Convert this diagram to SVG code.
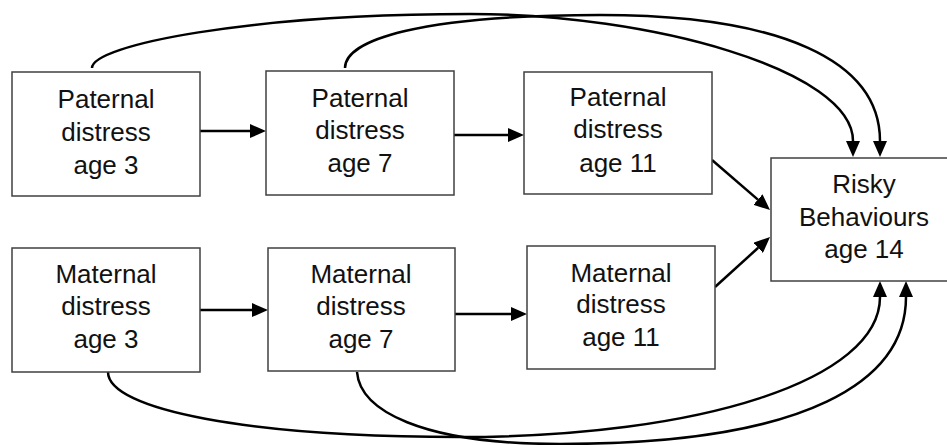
<svg xmlns="http://www.w3.org/2000/svg" width="947" height="445" viewBox="0 0 947 445">
<style>
.box{fill:#fff;stroke:#404040;stroke-width:1.5}
.t{font-family:"Liberation Sans",Arial,sans-serif;font-size:26px;fill:#111;text-anchor:middle}
.c{fill:none;stroke:#000;stroke-width:2.5}
</style>
<defs>
<marker id="ah" markerUnits="userSpaceOnUse" markerWidth="16" markerHeight="14" refX="0" refY="7" orient="auto" viewBox="0 0 16 14">
<path d="M0,0 L16,7 L0,14 z" fill="#000"/>
</marker>
</defs>
<g id="connectors">
<path class="c" marker-end="url(#ah)" d="M200,131 L250,131"/>
<path class="c" marker-end="url(#ah)" d="M454,135 L508,135"/>
<path class="c" marker-end="url(#ah)" d="M200,310 L252,310"/>
<path class="c" marker-end="url(#ah)" d="M455,314 L511,314"/>
<path class="c" marker-end="url(#ah)" d="M712,160 L757.9,199.6"/>
<path class="c" marker-end="url(#ah)" d="M715,287 L758.2,247.8"/>
<path class="c" marker-end="url(#ah)" d="M92,68 C92,45 250,14 470,14 C650,14 853,70 853,141"/>
<path class="c" marker-end="url(#ah)" d="M345,68 C345,40 420,15 600,15 C780,15 880,60 880,141"/>
<path class="c" marker-end="url(#ah)" d="M108,372 C108,410 250,437 460,437 C700,437 880,380 880,297"/>
<path class="c" marker-end="url(#ah)" d="M357,372 C360,410 420,444 560,444 C810,444 906,380 906,297"/>
</g>
<g id="p3"><rect class="box" x="12" y="72" width="188" height="124"/><text class="t"><tspan x="106" y="108">Paternal</tspan><tspan x="106" y="141">distress</tspan><tspan x="106" y="174">age 3</tspan></text></g>
<g id="p7"><rect class="box" x="266" y="71" width="188" height="124"/><text class="t"><tspan x="360" y="107">Paternal</tspan><tspan x="360" y="139">distress</tspan><tspan x="360" y="172">age 7</tspan></text></g>
<g id="p11"><rect class="box" x="524" y="72" width="188" height="122"/><text class="t"><tspan x="618" y="106">Paternal</tspan><tspan x="618" y="138">distress</tspan><tspan x="618" y="172">age 11</tspan></text></g>
<g id="risky"><rect class="box" x="771" y="158" width="188" height="123"/><text class="t"><tspan x="864" y="193">Risky</tspan><tspan x="864" y="226">Behaviours</tspan><tspan x="864" y="258">age 14</tspan></text></g>
<g id="m3"><rect class="box" x="12" y="248" width="188" height="124"/><text class="t"><tspan x="106" y="283">Maternal</tspan><tspan x="106" y="315">distress</tspan><tspan x="106" y="348">age 3</tspan></text></g>
<g id="m7"><rect class="box" x="268" y="248" width="187" height="123"/><text class="t"><tspan x="361" y="283">Maternal</tspan><tspan x="361" y="315">distress</tspan><tspan x="361" y="348">age 7</tspan></text></g>
<g id="m11"><rect class="box" x="527" y="246" width="188" height="123"/><text class="t"><tspan x="621" y="282">Maternal</tspan><tspan x="621" y="313">distress</tspan><tspan x="621" y="346">age 11</tspan></text></g>
</svg>
